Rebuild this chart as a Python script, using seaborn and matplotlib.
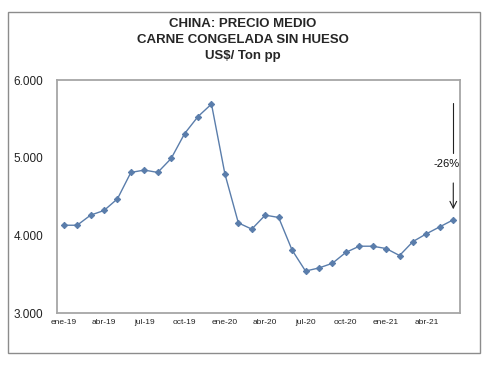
import matplotlib
matplotlib.use("Agg")
import matplotlib.pyplot as plt
import seaborn as sns
import pandas as pd
import numpy as np
from matplotlib.patches import Rectangle

months = ["ene-19","feb-19","mar-19","abr-19","may-19","jun-19","jul-19","ago-19","sep-19","oct-19","nov-19","dic-19",
          "ene-20","feb-20","mar-20","abr-20","may-20","jun-20","jul-20","ago-20","sep-20","oct-20","nov-20","dic-20",
          "ene-21","feb-21","mar-21","abr-21","may-21","jun-21"]
prices = [4130, 4130, 4260, 4320, 4470, 4810, 4840, 4810, 4990, 5310, 5530, 5690,
          4790, 4160, 4080, 4260, 4230, 3810, 3540, 3580, 3640, 3780, 3860, 3860,
          3830, 3740, 3920, 4020, 4110, 4200]
tick_labels = ["ene-19","abr-19","jul-19","oct-19","ene-20","abr-20","jul-20","oct-20","ene-21","abr-21"]
y_ticks = [3000, 4000, 5000, 6000]
y_tick_labels = ["3.000", "4.000", "5.000", "6.000"]
annotation = "-26%"

sns.set_theme(style="white")
plt.rcParams['font.family'] = ['Liberation Sans', 'DejaVu Sans']

df = pd.DataFrame({"idx": np.arange(len(months)), "mes": months, "precio": prices})

fig = plt.figure(figsize=(4.9, 3.65), dpi=100)
fig.patch.set_facecolor("white")
# outer frame
fig.patches.append(Rectangle((8/490, 1-353/365), (480-8)/490, (353-12)/365, transform=fig.transFigure,
                             fill=False, edgecolor="#8c8c8c", linewidth=1.0))

ax = fig.add_axes([57/490, 1-313/365, (460-57)/490, (313-80)/365])
sns.lineplot(data=df, x="idx", y="precio", ax=ax, color="#5a7dab", linewidth=1.0,
             marker="D", markersize=3.2, markeredgecolor="#5a7dab")

ax.set_xlim(-0.5, len(months)-0.5)
ax.set_ylim(3000, 6000)
ax.set_yticks(y_ticks)
ax.set_yticklabels(y_tick_labels, fontsize=8.5, color="#222222")
tick_pos = [months.index(t) for t in tick_labels]
ax.set_xticks(tick_pos)
ax.set_xticklabels(tick_labels, fontsize=6, color="#222222")
ax.set_xticks(np.arange(-0.5, len(months), 1.0), minor=True)
ax.tick_params(axis="x", which="major", length=0, pad=4)
ax.tick_params(axis="x", which="minor", length=2, color="#bbbbbb", direction="out")
ax.tick_params(axis="y", length=0, pad=10)
ax.set_xlabel("")
ax.set_ylabel("")
for s in ax.spines.values():
    s.set_color("#a6a6a6")
    s.set_linewidth(1.3)

# annotation
last = len(months) - 1
ax.annotate("", xy=(last, 4300), xytext=(last, 4710),
            arrowprops=dict(arrowstyle="->", color="#222222", lw=0.8))
ax.plot([last, last], [5060, 5700], color="#222222", lw=0.8)
ax.text(last - 0.5, 4920, annotation, ha="center", va="center", fontsize=8, color="#111111")

fig.text(243/490, 1-24/365, "CHINA: PRECIO MEDIO", ha="center", va="center", fontsize=9.5, fontweight="bold")
fig.text(243/490, 1-40/365, "CARNE CONGELADA SIN HUESO", ha="center", va="center", fontsize=9.5, fontweight="bold")
fig.text(243/490, 1-56/365, "US$/ Ton pp", ha="center", va="center", fontsize=9.5, fontweight="bold")

fig.savefig("out.png", dpi=100)
